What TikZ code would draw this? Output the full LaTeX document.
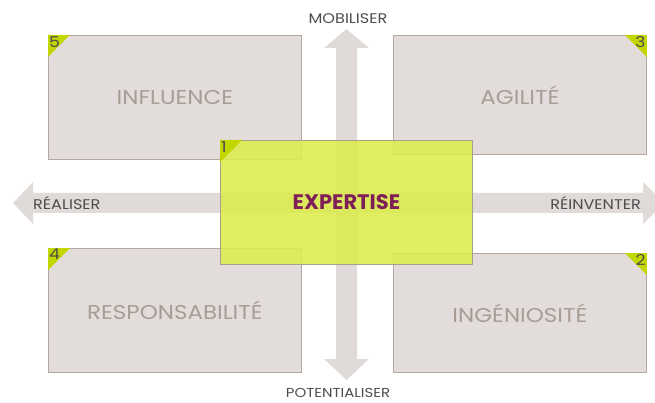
\documentclass[tikz,border=0pt]{standalone}
\usepackage{fontspec}
\setmainfont{Poppins}[FakeStretch=1.15]
\newfontfamily\expfont{Poppins}
\definecolor{boxfill}{HTML}{E2DDDB}
\definecolor{boxline}{HTML}{B3A8A1}
\definecolor{boxtext}{HTML}{A89C95}
\definecolor{axisgray}{HTML}{E0DBD9}
\definecolor{labelgray}{HTML}{4D4D4D}
\definecolor{cornergreen}{HTML}{C4D600}
\definecolor{expfill}{HTML}{DDEC4C}
\definecolor{expline}{HTML}{A89E8F}
\definecolor{exptext}{HTML}{7F1F58}
\tikzset{
  quad/.style={draw=boxline, fill=boxfill, line width=0.8pt, anchor=north west,
    minimum width=253pt, minimum height=#1, inner sep=0pt,
    text=boxtext, font=\fontsize{20}{24}\selectfont},
  quad/.default=124pt,
  axislabel/.style={text=labelgray, font=\fontsize{14}{16}\selectfont, inner sep=0pt},
  num/.style={text=labelgray, font=\fontsize{15}{16}\selectfont, inner sep=1pt},
  corner/.style={fill=cornergreen}
}
\begin{document}
\begin{tikzpicture}[x=1pt, y=-1pt]
    \useasboundingbox (0,0) rectangle (655,403);
    \fill[axisgray] (346.5,29) -- (369,48) -- (357,48) -- (357,359) -- (369,359) -- (346.5,380)
        -- (324,359) -- (336,359) -- (336,48) -- (324,48) -- cycle;
    \fill[axisgray] (13,203) -- (33,182) -- (33,193) -- (643,193) -- (643,182) -- (664,203)
        -- (643,224) -- (643,213) -- (33,213) -- (33,224) -- cycle;
    \node[axislabel] (mob) at (348,19) {MOBILISER};
    \node[axislabel, font=\fontsize{13}{16}\selectfont] (pot) at (338,393) {POTENTIALISER};
    \node[axislabel, anchor=west] (rea) at (33,203) {RÉALISER};
    \node[axislabel, anchor=east] (rei) at (641,203) {RÉINVENTER};

    \node[quad] (inf) at (48,35) {INFLUENCE};
    \node[quad=119pt] (agi) at (393,35) {AGILITÉ};
    \node[quad] (res) at (48,248) {RESPONSABILITÉ};
    \node[quad=119pt] (ing) at (393,253) {INGÉNIOSITÉ};
    \foreach \b/\n in {inf/5, res/4} {
        \fill[corner] (\b.north west) -- ++(22,0) -- ++(-22,22) -- cycle;
        \node[num, anchor=north west] at (\b.north west) {\n};
    }
    \foreach \b/\n in {agi/3, ing/2} {
        \fill[corner] (\b.north east) -- ++(-22,0) -- ++(22,22) -- cycle;
        \node[num, anchor=north east] at (\b.north east) {\n};
    }

    \node[draw=expline, fill=expfill, fill opacity=0.88, text opacity=1, line width=0.8pt,
        anchor=north west, minimum width=252pt, minimum height=124pt, inner sep=0pt,
        text=exptext, font=\expfont\fontsize{21}{24}\selectfont\bfseries] (exp) at (220,140) {EXPERTISE};
    \fill[corner] (exp.north west) -- ++(22,0) -- ++(-22,22) -- cycle;
    \node[num, anchor=north west] at (exp.north west) {1};
\end{tikzpicture}
\end{document}
